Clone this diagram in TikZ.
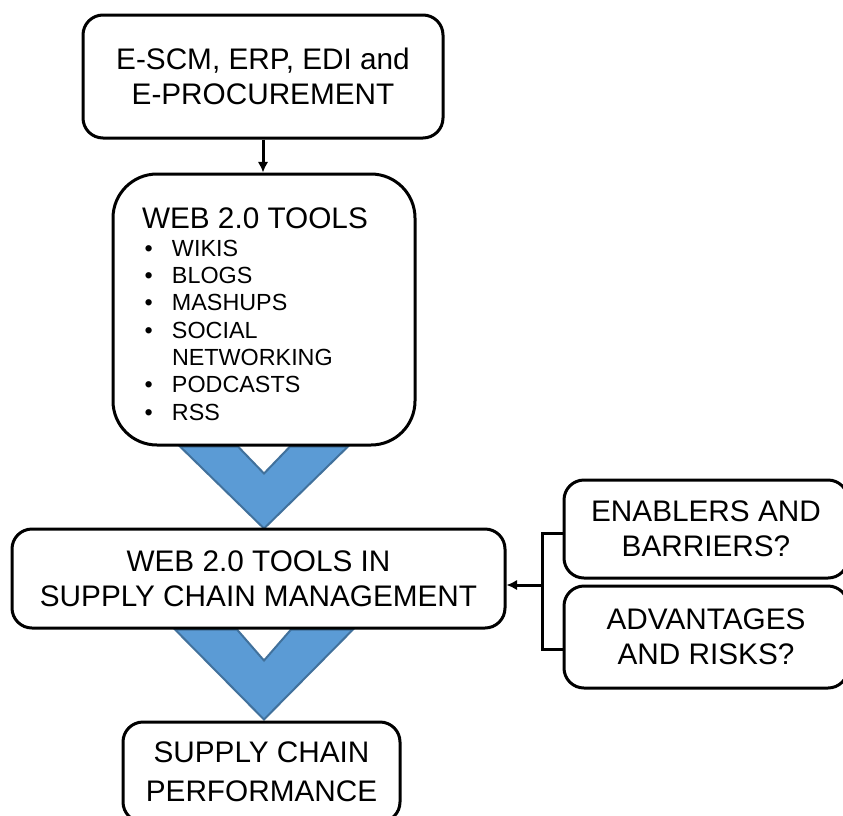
\documentclass[tikz,border=0pt]{standalone}
\usepackage{fontspec}
\setmainfont{Liberation Sans}
\usepackage{tikz}
\usepackage{xcolor}
\usetikzlibrary{arrows.meta,calc,backgrounds}
\definecolor{chevfill}{HTML}{5B9BD5}
\definecolor{chevline}{HTML}{41719C}
\tikzstyle{box} = [rectangle, rounded corners=15pt, draw, line width=2.25pt, fill=white, align=center, font=\fontsize{22.3}{26}\selectfont]
\tikzstyle{chevron} = [fill=chevfill, draw=chevline, line width=1.5pt, line join=miter]
\newcommand{\webitem}{\makebox[22.5pt][l]{\hspace{2pt}\textbullet}}

\begin{document}
\begin{tikzpicture}[x=0.75pt,y=-0.75pt,>={Latex[length=8pt,width=8pt]},line width=2.25pt]
  \clip (0,0) rectangle (843,815);
  \node[box, minimum width=270pt, minimum height=92.25pt] (esc) at (263,76.5) {E-SCM, ERP, EDI and\\E-PROCUREMENT};
  \node[box, rounded corners=33pt, minimum width=226.5pt, minimum height=203.25pt, font=\fontsize{17.5}{20.5}\selectfont] (tools) at (264,309.5)
    {\parbox[c][190pt][t]{183pt}{\raggedright\parindent=0pt\vspace*{19pt}
     {\fontsize{22.3}{26}\selectfont WEB 2.0 TOOLS\par}
     \webitem WIKIS\par
     \webitem BLOGS\par
     \webitem MASHUPS\par
     \webitem SOCIAL\par
     \hspace*{22.5pt}NETWORKING\par
     \webitem PODCASTS\par
     \webitem RSS}};
  \node[box, minimum width=369.75pt, minimum height=74.25pt] (scm) at (258.5,578.5) {WEB 2.0 TOOLS IN\\SUPPLY CHAIN MANAGEMENT};
  \node[box, minimum width=207.75pt, minimum height=75pt, font=\fontsize{22.3}{29}\selectfont] (perf) at (261.5,772) {SUPPLY CHAIN\\PERFORMANCE};
  \node[box, minimum width=213pt, minimum height=73.5pt] (enab) at (706,529) {ENABLERS AND\\BARRIERS?};
  \node[box, minimum width=213pt, minimum height=76.5pt] (adv) at (706,637) {ADVANTAGES\\AND RISKS?};

  % chevrons between the main boxes
  \begin{scope}[on background layer]
    \draw[chevron] ($(tools.south)+(-84,0)$) -- ($(tools.south)+(-26,0)$) -- ($(tools.south)+(0,27)$)
      -- ($(tools.south)+(26,0)$) -- ($(tools.south)+(84,0)$) -- ($(tools.south)+(0,82)$) -- cycle;
    \draw[chevron] ($(scm.south -| tools.south)+(-89,0)$) -- ($(scm.south -| tools.south)+(-27,0)$) -- ($(scm.south -| tools.south)+(0,31)$)
      -- ($(scm.south -| tools.south)+(27,0)$) -- ($(scm.south -| tools.south)+(89,0)$) -- ($(scm.south -| tools.south)+(0,90)$) -- cycle;
  \end{scope}

  \coordinate (join) at (542,585);
  \draw[->] (esc.south) -- (esc.south |- tools.north);
  \draw ([yshift=-3pt]enab.west) -| (join) |- ([yshift=-9pt]adv.west);
  \draw[->] (join) -- (join -| scm.east);
\end{tikzpicture}
\end{document}
